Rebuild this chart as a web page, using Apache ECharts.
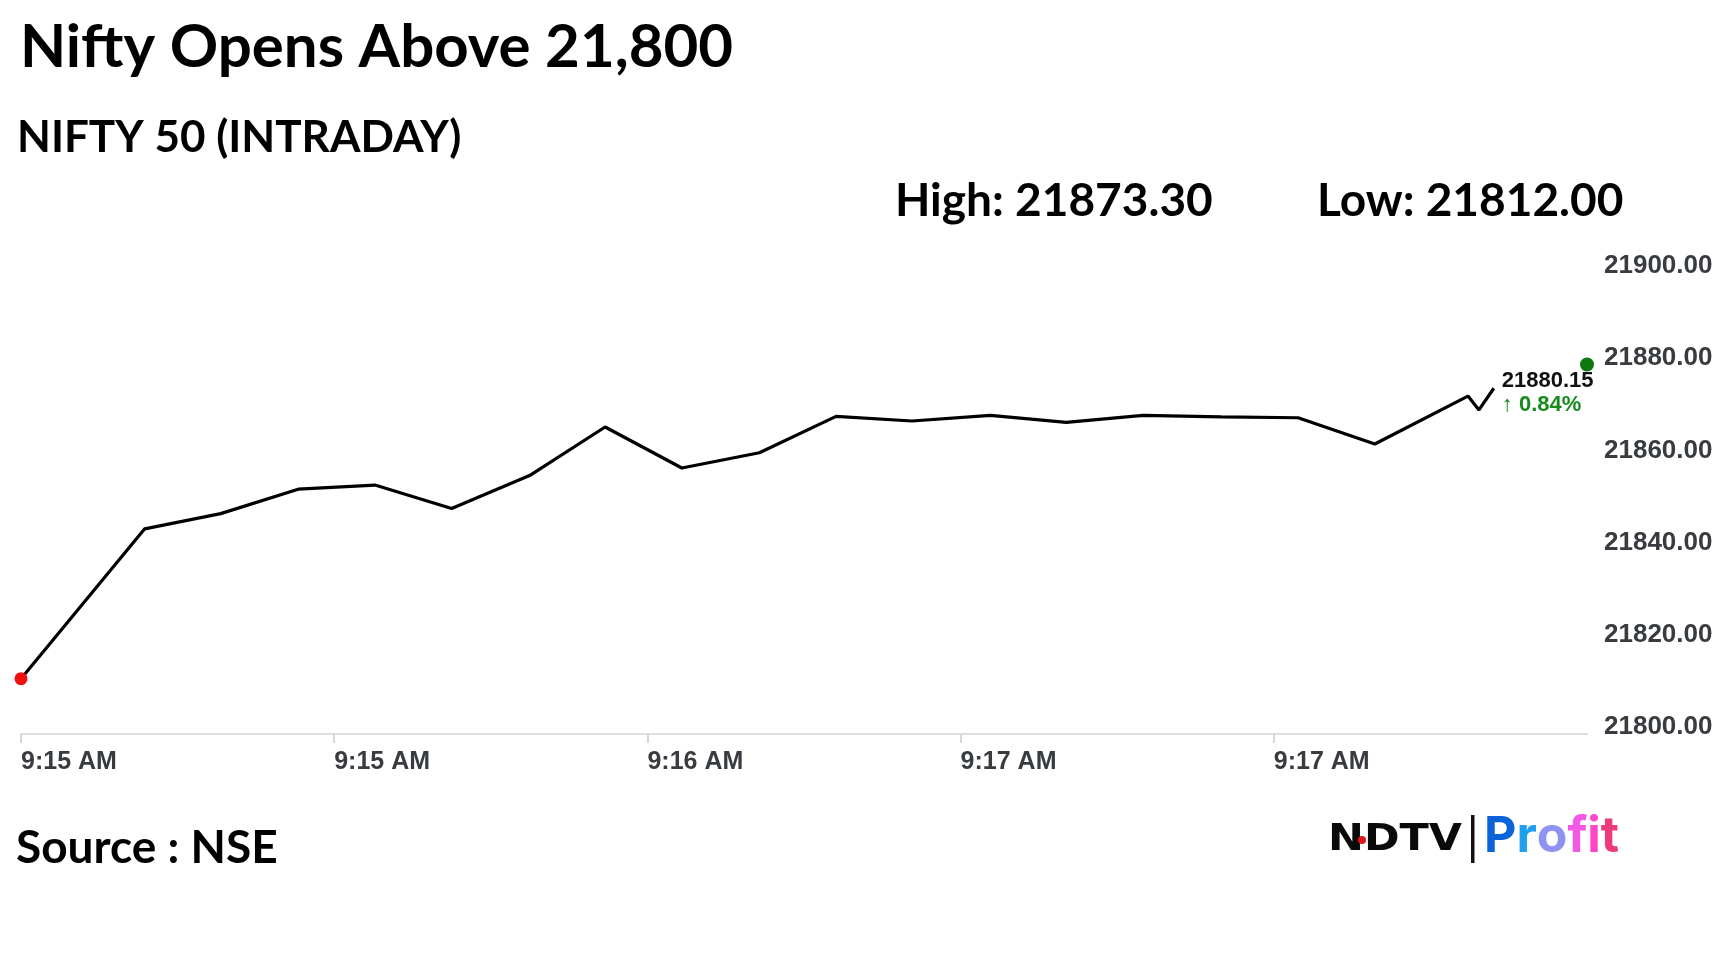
<!DOCTYPE html>
<html style="height: 100%">
<head>
   <meta charset="utf-8">
   <title>Nifty Opens Above 21,800</title>
</head>
<style>
    body, html, #chart {
        width: 100%;
        height: 100%;
        margin: 0;
        background: #fff;
    }
</style>
<script src="https://cdn.jsdelivr.net/npm/echarts@6/dist/echarts.min.js"></script>
<body>
   <div id="chart"></div>
   <script type="text/javascript">
    // texts
    var headline = 'Nifty Opens Above 21,800'
    var subtitle = 'NIFTY 50 (INTRADAY)'
    var highText = 'High: 21873.30'
    var lowText = 'Low: 21812.00'
    var sourceText = 'Source : NSE'

    // seconds since 9:15 and the index value at that moment
    var times = [0, 15.8, 25.5, 35.4, 45.2, 55.0, 65.1, 74.6, 84.4, 94.3, 104.1,
                 113.8, 123.8, 133.5, 143.3, 153.3, 163.1, 172.9, 184.8, 186.2, 188.1]
    var prices = [21812.0, 21844.5, 21847.8, 21853.1, 21854.0, 21848.9, 21856.2, 21866.6, 21857.7, 21861.0, 21868.9,
                  21867.9, 21869.1, 21867.6, 21869.1, 21868.8, 21868.6, 21862.9, 21873.3, 21870.3, 21875.0]

    var openPoint = [0, 21812.0]
    var lastPoint = [200, 21880.15]
    var lastPrice = '21880.15'
    var changeText = '\u2191 0.84%'

    var xTicks = [0, 40, 80, 120, 160, 200]
    var xTickLabels = ['9:15 AM', '9:15 AM', '9:16 AM', '9:17 AM', '9:17 AM', '']
    var yTicks = [21800, 21820, 21840, 21860, 21880, 21900]

    // logo word, one colour per letter (stands in for the gradient)
    var logoLetters = ['P', 'r', 'o', 'f', 'i', 't']
    var logoColors = ['#0b63d9', '#1f9ff0', '#8e93f3', '#f257e6', '#ff45c8', '#ee3a7c']

    var lineData = times.map(function (t, i) { return [t, prices[i]] })

    var chart = echarts.init(document.getElementById('chart'))
    var bold = { fontFamily: 'Lato', fontWeight: 'bold', fill: '#000' }

    var logoRich = {}
    logoLetters.forEach(function (ch, i) {
        logoRich['c' + i] = { fontFamily: 'Inter', fontWeight: 'bold', fontSize: 50, fill: logoColors[i], color: logoColors[i] }
    })
    var logoText = logoLetters.map(function (ch, i) { return '{c' + i + '|' + ch + '}' }).join('')

    var option = {
        backgroundColor: '#fff',
        animation: false,
        grid: { left: 21, right: 141, top: 273, bottom: 238 },
        xAxis: {
            type: 'value',
            min: xTicks[0],
            max: xTicks[xTicks.length - 1],
            interval: xTicks[1] - xTicks[0],
            axisLine: { lineStyle: { color: '#dedede', width: 2 } },
            axisTick: { show: true, length: 9, lineStyle: { color: '#d6d6d6', width: 2 } },
            splitLine: { show: false },
            axisLabel: {
                align: 'left',
                margin: 16,
                showMaxLabel: false,
                fontFamily: 'Liberation Sans',
                fontWeight: 'bold',
                fontSize: 25,
                color: '#383b3f',
                formatter: function (v) {
                    return xTickLabels[xTicks.indexOf(v)] || ''
                }
            }
        },
        yAxis: {
            type: 'value',
            position: 'right',
            min: yTicks[0],
            max: yTicks[yTicks.length - 1],
            interval: yTicks[1] - yTicks[0],
            axisLine: { show: false },
            axisTick: { show: false },
            splitLine: { show: false },
            axisLabel: {
                margin: 17,
                verticalAlign: 'bottom',
                lineHeight: 14,
                fontFamily: 'Liberation Sans',
                fontWeight: 'bold',
                fontSize: 26,
                color: '#383b3f',
                formatter: function (v) { return v.toFixed(2) }
            }
        },
        series: [
            {
                type: 'line',
                data: lineData,
                showSymbol: false,
                lineStyle: { color: '#000', width: 3.2 },
                z: 3,
                endLabel: {
                    show: true,
                    distance: 8,
                    offset: [0, 5],
                    formatter: '{a|' + lastPrice + '}\n{b|' + changeText + '}',
                    rich: {
                        a: { fontFamily: 'Liberation Sans', fontWeight: 'bold', fontSize: 22, color: '#111', lineHeight: 24 },
                        b: { fontFamily: 'Liberation Sans', fontWeight: 'bold', fontSize: 22, color: '#168a1c', lineHeight: 24 }
                    }
                }
            },
            {
                type: 'scatter',
                data: [openPoint],
                symbolSize: 13,
                itemStyle: { color: '#f01010', opacity: 1 },
                z: 4
            },
            {
                type: 'scatter',
                data: [lastPoint],
                symbolSize: 14,
                itemStyle: { color: '#0c780f', opacity: 1 },
                z: 4
            }
        ],
        graphic: [
            { type: 'text', left: 20, top: 18, style: Object.assign({ text: headline, fontSize: 60 }, bold) },
            { type: 'text', left: 17, top: 116, style: Object.assign({ text: subtitle, fontSize: 44 }, bold) },
            { type: 'text', left: 895, top: 178, style: Object.assign({ text: highText, fontSize: 46 }, bold) },
            { type: 'text', left: 1317, top: 178, style: Object.assign({ text: lowText, fontSize: 46 }, bold) },
            { type: 'text', left: 16, top: 825, style: Object.assign({ text: sourceText, fontSize: 46 }, bold) },
            // logo
            {
                type: 'text', x: 1328, y: 822, scaleX: 1.16,
                style: { text: 'NDTV', fontFamily: 'DejaVu Sans', fontWeight: 'bold', fontSize: 37, fill: '#0a0a0a' }
            },
            { type: 'circle', shape: { cx: 1362, cy: 840, r: 4 }, style: { fill: '#e3141b' }, z: 10 },
            { type: 'rect', shape: { x: 1471, y: 815, width: 3.5, height: 48 }, style: { fill: '#111' } },
            {
                type: 'text', x: 1484, y: 812,
                style: { text: logoText, rich: logoRich, fontFamily: 'Inter', fontWeight: 'bold', fontSize: 50 }
            }
        ]
    }
    chart.setOption(option)
    </script>
</body>
</html>
